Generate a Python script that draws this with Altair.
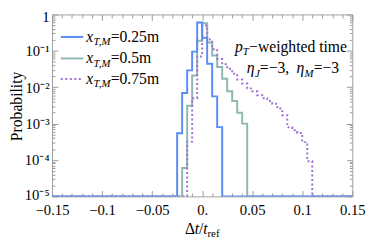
import altair as alt
import pandas as pd

FONT = "Liberation Serif"
W, H = 307, 186
BIN = 0.005
FLOOR = 1e-5
X_MIN, X_MAX = -0.15, 0.15

legend_values = ["=0.25m", "=0.5m", "=0.75m"]
colors = ["#5a8cf2", "#8fb7b1", "#9f6fd6"]

blue_start = -0.025
blue_vals = [5.4e-4, 6.9e-3, 0.029, 0.095, 0.60, 0.23, 0.044, 5.6e-3, 8.0e-4]
teal_start = -0.02
teal_vals = [6.0e-5, 3.1e-3, 0.021, 0.19, 0.57, 0.17, 0.074, 0.036, 0.017,
             7.7e-3, 4.2e-3, 2.0e-3, 1.0e-3]
purple_start = -0.015
purple_vals = [3.2e-4, 5.0e-3, 0.07, 0.50, 0.205, 0.111, 0.060, 0.043, 0.032,
               0.0235, 0.0163, 0.0127, 0.0093, 0.0077, 0.0060, 0.0050, 0.0042,
               0.0035, 0.0026, 0.0017, 7.9e-4, 6.6e-4, 5.5e-4, 3.1e-4, 9.2e-5]

x_major = [-0.15, -0.1, -0.05, 0.0, 0.05, 0.1, 0.15]
x_major_labels = ["−0.15", "−0.1", "−0.05", "0.", "0.05", "0.1", "0.15"]
x_ticks = [round(-0.15 + 0.01 * i, 2) for i in range(31)]
y_major = [1e-5, 1e-4, 1e-3, 1e-2, 1e-1, 1.0]
y_major_labels = ["10⁻⁵", "10⁻⁴", "10⁻³", "10⁻²", "10⁻¹", "1"]
y_ticks = [k * 10.0 ** e for e in range(-5, 0) for k in range(1, 10)] + [1.0]

TICK = "#9a9a9a"
PURPLE_DASH = [2, 2.6]


def step_frame(start, vals):
    xs = [X_MIN] + [round(start + i * BIN, 4) for i in range(len(vals) + 1)] + [X_MAX]
    ys = [FLOOR] + list(vals) + [FLOOR, FLOOR]
    return pd.DataFrame({"x": xs, "p": ys})


def label_expr(vals, labels):
    arr = "[" + ",".join("'" + l + "'" for l in labels) + "]"
    num = "[" + ",".join(repr(v) for v in vals) + "]"
    return arr + "[indexof(" + num + ", datum.value)]"


x_test = "abs(datum.value*20 - round(datum.value*20)) < 1e-6"
y_test = "abs(log(datum.value)/LN10 - round(log(datum.value)/LN10)) < 1e-6"
x_tsize = {"condition": {"test": x_test, "value": 6}, "value": 3.5}
y_tsize = {"condition": {"test": y_test, "value": 6}, "value": 3}
y_loff = {"condition": [{"test": "datum.value >= 1", "value": 2},
                        {"test": "datum.value <= 1e-5", "value": -1.5}], "value": 0}

common_tick_axis = dict(labels=False, domain=False, grid=False, title="",
                        tickColor=TICK, tickWidth=1)

ax_x = [
    alt.Axis(values=x_major, labelExpr=label_expr(x_major, x_major_labels),
             ticks=False, domain=False, grid=False, title="", labelFont=FONT,
             labelFontSize=15, labelColor="black", labelPadding=7,
             labelFlush=False, labelOverlap=False),
    alt.Axis(orient="top", offset=-H, values=x_ticks, tickSize=x_tsize, **common_tick_axis),
    alt.Axis(orient="bottom", offset=-H, values=x_ticks, tickSize=x_tsize, **common_tick_axis),
]
ax_y = [
    alt.Axis(orient="left", values=y_major, labelExpr=label_expr(y_major, y_major_labels),
             ticks=False, domain=False, grid=False, title="", labelFont=FONT,
             labelFontSize=15, labelColor="black", labelPadding=3,
             labelOffset=y_loff, labelFlush=False, labelOverlap=False),
    alt.Axis(orient="right", offset=-W, values=y_ticks, tickSize=y_tsize, **common_tick_axis),
    alt.Axis(orient="left", offset=-W, values=y_ticks, tickSize=y_tsize, **common_tick_axis),
]

xscale = alt.Scale(domain=[X_MIN, X_MAX], nice=False, zero=False)
yscale = alt.Scale(type="log", domain=[FLOOR, 1.0], nice=False)

series = [
    (teal_start, teal_vals, colors[1], None, 2.0),
    (purple_start, purple_vals, colors[2], PURPLE_DASH, 2.0),
    (blue_start, blue_vals, colors[0], None, 2.0),
]

layers = []
for i, (st, vals, col, dash, sw) in enumerate(series):
    mk = dict(interpolate="step-after", color=col, strokeWidth=sw, clip=True)
    if dash:
        mk["strokeDash"] = dash
    layers.append(
        alt.Chart(step_frame(st, vals)).mark_line(**mk).encode(
            x=alt.X("x:Q", scale=xscale, axis=ax_x[i]),
            y=alt.Y("p:Q", scale=yscale, axis=ax_y[i]),
        )
    )


def txt(s, x, y, size=16, italic=False, align="left", baseline="alphabetic", angle=0):
    kw = dict(font=FONT, fontSize=size, align=align, baseline=baseline, color="black")
    if italic:
        kw["fontStyle"] = "italic"
    if angle:
        kw["angle"] = angle
    return alt.Chart(pd.DataFrame({"t": [s]})).mark_text(**kw).encode(
        text="t:N", x=alt.value(x), y=alt.value(y))


# legend
leg_y = [23, 45, 66]
for col, dash, sw, ly, lab in [(colors[0], None, 2.0, leg_y[0], legend_values[0]),
                               (colors[1], None, 2.0, leg_y[1], legend_values[1]),
                               (colors[2], PURPLE_DASH, 2.0, leg_y[2], legend_values[2])]:
    mk = dict(color=col, strokeWidth=sw)
    if dash:
        mk["strokeDash"] = dash
    layers.append(alt.Chart(pd.DataFrame({"s": [0]})).mark_rule(**mk).encode(
        x=alt.value(9), x2=alt.value(32), y=alt.value(ly)))
    layers.append(txt("x", 35, ly + 5, italic=True))
    layers.append(txt("T,M", 42.5, ly + 8.5, size=11, italic=True))
    layers.append(txt(lab, 60, ly + 5))

# annotation
layers += [
    txt("p", 187, 38, italic=True),
    txt("T", 195, 41.5, size=11, italic=True),
    txt("−weighted time", 201.5, 38),
    txt("η", 199, 60, italic=True),
    txt("J", 207.5, 63.5, size=11, italic=True),
    txt("=−3, ", 212.5, 60),
    txt("η", 250, 60, italic=True),
    txt("M", 258, 63.5, size=11, italic=True),
    txt("=−3", 267.5, 60),
]

# axis titles
layers += [
    txt("Δ", 136, 224),
    txt("t", 145.8, 224, italic=True),
    txt("/", 150.2, 224),
    txt("t", 154.6, 224, italic=True),
    txt("ref", 159, 227.5, size=11),
    txt("Probability", -36, H / 2 + 1, align="center", baseline="middle", angle=270),
]

chart = alt.layer(*layers).resolve_scale(x="shared", y="shared").resolve_axis(
    x="independent", y="independent"
).properties(
    width=W, height=H,
    autosize=alt.AutoSizeParams(type="none"),
    padding={"left": 45, "top": 4, "right": 14, "bottom": 42},
).configure_view(stroke="#a0a0a0", strokeWidth=1)

chart.save("out.html", embed_options={"renderer": "svg", "actions": False})
